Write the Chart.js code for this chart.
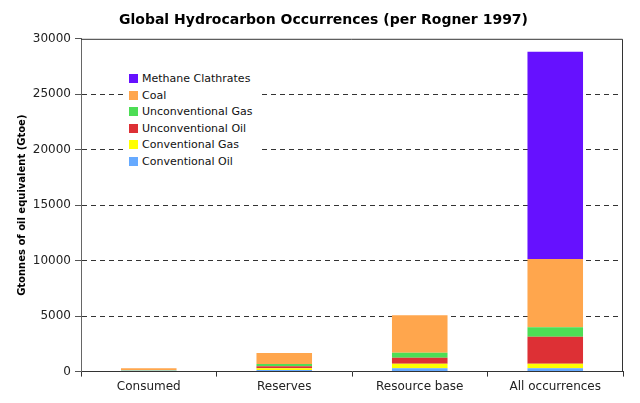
<!DOCTYPE html>
<html>
<head>
<meta charset="utf-8">
<title>Global Hydrocarbon Occurrences</title>
<script src="https://cdn.jsdelivr.net/npm/chart.js@4"></script>
<style>
  body { margin: 0; background: #fff; }
  #wrap { position: relative; width: 640px; height: 403px; }
  #legend {
    position: absolute; left: 126px; top: 69px; width: 132px;
    background: #fff; padding: 2px 0 2px 3px;
    font: 11px "DejaVu Sans", Verdana, sans-serif; color: #111;
  }
  #legend div { height: 16.6px; line-height: 16.6px; white-space: nowrap; }
  #legend span {
    display: inline-block; width: 9px; height: 9px; margin-right: 4px;
    vertical-align: -1px;
  }
</style>
</head>
<body>
<div id="wrap">
  <canvas id="my-chart" width="640" height="403"></canvas>
  <div id="legend"></div>
</div>
<script>
'use strict';

// *** Data (Gtoe) ***

let categories = ['Consumed', 'Reserves', 'Resource base', 'All occurrences'];

let conventionalOil = [97, 150, 295, 295];
let conventionalGas = [47, 141, 420, 420];
let unconventionalOil = [6, 193, 525, 2425];
let unconventionalGas = [0, 192, 450, 850];
let coal = [155, 1003, 3400, 6150];
let methaneClathrates = [0, 0, 0, 18700];

let yTicks = [0, 5000, 10000, 15000, 20000, 25000, 30000];

// *** Chart ***

let ctx = document.getElementById('my-chart');
let fontFamily = '"DejaVu Sans", Verdana, sans-serif';

// box line on top and right of the plot, title nudged right like the original
let frame = {
  id: 'frame',
  afterLayout(chart) {
    if (chart.titleBlock) {
      chart.titleBlock.left = 24;
    }
  },
  beforeDatasetsDraw(chart) {
    let a = chart.chartArea;
    let c = chart.ctx;
    c.save();
    c.strokeStyle = '#333';
    c.lineWidth = 1;
    c.beginPath();
    c.moveTo(a.left, a.top + 0.5);
    c.lineTo(a.right - 0.5, a.top + 0.5);
    c.lineTo(a.right - 0.5, a.bottom);
    c.stroke();
    c.restore();
  }
};

function makeSet(label, data, color) {
  return {
    label: label,
    data: data,
    backgroundColor: color,
    borderWidth: 0,
    barPercentage: 0.41,
    categoryPercentage: 1
  };
}

let chart = new Chart(ctx, {
  type: 'bar',
  data: {
    labels: categories,
    datasets: [
      makeSet('Conventional Oil', conventionalOil, '#66aaff'),
      makeSet('Conventional Gas', conventionalGas, '#ffff00'),
      makeSet('Unconventional Oil', unconventionalOil, '#dd3035'),
      makeSet('Unconventional Gas', unconventionalGas, '#4ddd55'),
      makeSet('Coal', coal, '#ffa64d'),
      makeSet('Methane Clathrates', methaneClathrates, '#6611ff')
    ]
  },
  options: {
    responsive: false,
    animation: false,
    layout: { padding: { left: 0, right: 17, top: 0, bottom: 6 } },
    plugins: {
      legend: { display: false },
      tooltip: { enabled: false },
      title: {
        display: true,
        text: 'Global Hydrocarbon Occurrences (per Rogner 1997)',
        color: '#000',
        font: { family: fontFamily, size: 14, weight: 'bold' },
        padding: { top: 12, bottom: 10 }
      }
    },
    scales: {
      x: {
        stacked: true,
        offset: true,
        grid: {
          offset: true,
          drawOnChartArea: false,
          drawTicks: true,
          tickLength: 5,
          tickColor: '#333'
        },
        border: { display: true, color: '#333', width: 1 },
        ticks: {
          color: '#222',
          padding: 3,
          font: { family: fontFamily, size: 12 }
        }
      },
      y: {
        stacked: true,
        min: 0,
        max: 30000,
        afterFit(scale) { scale.width = 81; },
        afterBuildTicks(scale) {
          scale.ticks = yTicks.map(v => ({ value: v }));
        },
        grid: {
          color: c => (c.tick && (c.tick.value === 0 || c.tick.value === 30000)) ? 'rgba(0,0,0,0)' : '#333',
          tickColor: '#555',
          tickLength: 6,
          drawTicks: true
        },
        border: { display: true, color: '#666', width: 1, dash: [5, 4] },
        ticks: {
          color: '#222',
          padding: 4,
          font: { family: fontFamily, size: 12 },
          callback: v => String(v)
        },
        title: {
          display: true,
          text: 'Gtonnes of oil equivalent (Gtoe)',
          color: '#000',
          font: { family: fontFamily, size: 10, weight: 'bold' },
          padding: { top: 16, bottom: 0 }
        }
      }
    }
  },
  plugins: [frame]
});

// *** Legend (top layer first, like the original) ***

let legendBox = document.getElementById('legend');
chart.data.datasets.slice().reverse().forEach(ds => {
  let row = document.createElement('div');
  let swatch = document.createElement('span');
  swatch.style.background = ds.backgroundColor;
  row.appendChild(swatch);
  row.appendChild(document.createTextNode(ds.label));
  legendBox.appendChild(row);
});
</script>
</body>
</html>
